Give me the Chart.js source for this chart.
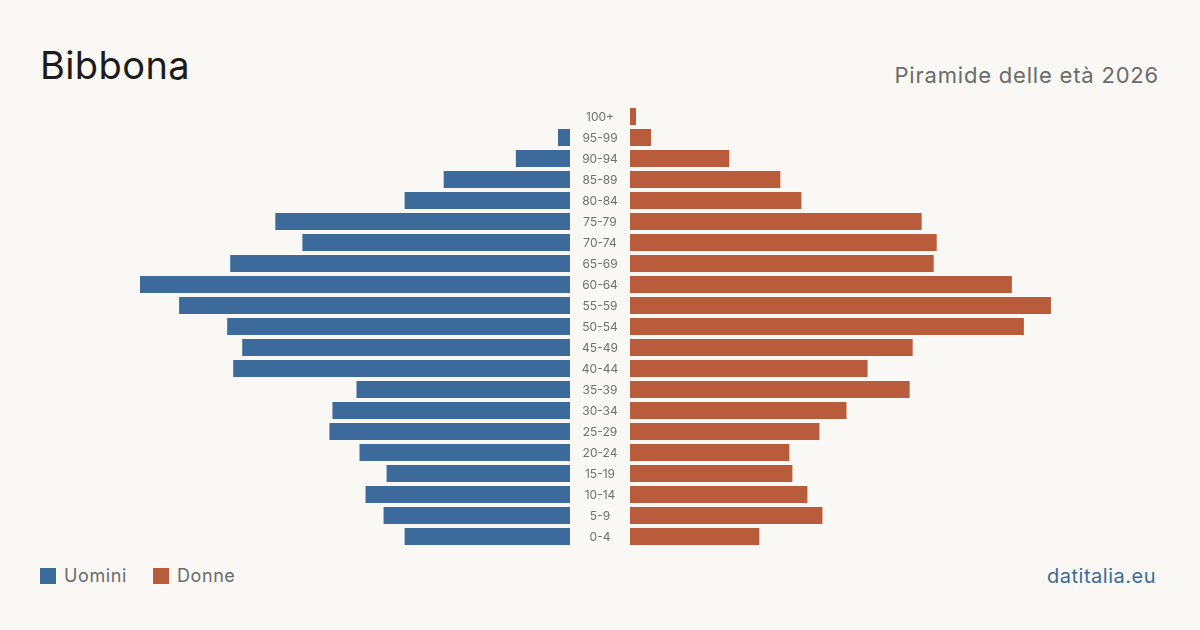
<!DOCTYPE html>
<html>
<head>
<meta charset="utf-8">
<script src="https://cdn.jsdelivr.net/npm/chart.js@4/dist/chart.umd.min.js"></script>
<style>
  body { margin: 0; width: 1200px; height: 630px; background: #f9f8f4; font-family: Inter, "Noto Sans", sans-serif; overflow: hidden; position: relative; }
  #titolo { position: absolute; left: 40px; top: 42px; font-size: 38px; color: #1c1c1c; letter-spacing: 0.4px; }
  #sottotitolo { position: absolute; right: 41px; top: 62px; font-size: 22px; color: #6b6b6b; letter-spacing: 0.8px; }
  #legenda { position: absolute; left: 40px; top: 565px; font-size: 18px; color: #6b6b6b; letter-spacing: 0.6px; }
  #legenda span.q { display: inline-block; width: 16px; height: 16px; vertical-align: -2px; margin-right: 8px; }
  #legenda span.v { margin-right: 26px; }
  #fonte { position: absolute; right: 44px; top: 564px; font-size: 20px; color: #3a6a9b; letter-spacing: 0.5px; }
  canvas { position: absolute; }
  #graficoUomini { left: 140px; top: 106px; }
  #graficoDonne { left: 570px; top: 106px; }
</style>
</head>
<body>
<div id="titolo">Bibbona</div>
<div id="sottotitolo">Piramide delle età 2026</div>
<canvas id="graficoUomini" width="430" height="441"></canvas>
<canvas id="graficoDonne" width="490" height="441"></canvas>
<div id="legenda"><span class="q" style="background:#3b6a9b"></span><span class="v">Uomini</span><span class="q" style="background:#b95c3b"></span><span>Donne</span></div>
<div id="fonte">datitalia.eu</div>
<script>
const classi = ['100+', '95-99', '90-94', '85-89', '80-84', '75-79', '70-74', '65-69', '60-64', '55-59', '50-54',
  '45-49', '40-44', '35-39', '30-34', '25-29', '20-24', '15-19', '10-14', '5-9', '0-4'];
const uomini = [0, 4, 18, 42, 55, 98, 89, 113, 143, 130, 114, 109, 112, 71, 79, 80, 70, 61, 68, 62, 55];
const donne = [2, 7, 33, 50, 57, 97, 102, 101, 127, 140, 131, 94, 79, 93, 72, 63, 53, 54, 59, 64, 43];
const massimo = 143;

const blu = '#3b6a9b';
const arancio = '#b95c3b';

// etichette delle classi d'età, centrate nello spazio tra le due metà
const etichetteCentrali = {
  id: 'etichetteCentrali',
  afterDraw(chart) {
    const ctx = chart.ctx;
    const y = chart.scales.y;
    const xc = chart.chartArea.left - 30;
    ctx.save();
    ctx.font = '12px Inter';
    ctx.fillStyle = '#707070';
    ctx.textAlign = 'center';
    ctx.textBaseline = 'middle';
    chart.data.labels.forEach((l, i) => {
      ctx.fillText(l, xc, y.getPixelForValue(i) + 1);
    });
    ctx.restore();
  }
};

new Chart(document.getElementById('graficoUomini'), {
  type: 'bar',
  data: {
    labels: classi,
    datasets: [{
      label: 'Uomini',
      data: uomini,
      backgroundColor: blu,
      categoryPercentage: 1,
      barPercentage: 0.81
    }]
  },
  options: {
    responsive: false,
    animation: false,
    indexAxis: 'y',
    layout: { padding: 0 },
    plugins: { legend: { display: false }, tooltip: { enabled: false } },
    scales: {
      x: { display: false, reverse: true, min: 0, max: massimo },
      y: { display: false }
    }
  }
});

new Chart(document.getElementById('graficoDonne'), {
  type: 'bar',
  data: {
    labels: classi,
    datasets: [{
      label: 'Donne',
      data: donne,
      backgroundColor: arancio,
      categoryPercentage: 1,
      barPercentage: 0.81
    }]
  },
  options: {
    responsive: false,
    animation: false,
    indexAxis: 'y',
    layout: { padding: { left: 60 } },
    plugins: { legend: { display: false }, tooltip: { enabled: false } },
    scales: {
      x: { display: false, min: 0, max: massimo },
      y: { display: false }
    }
  },
  plugins: [etichetteCentrali]
});
</script>
</body>
</html>
